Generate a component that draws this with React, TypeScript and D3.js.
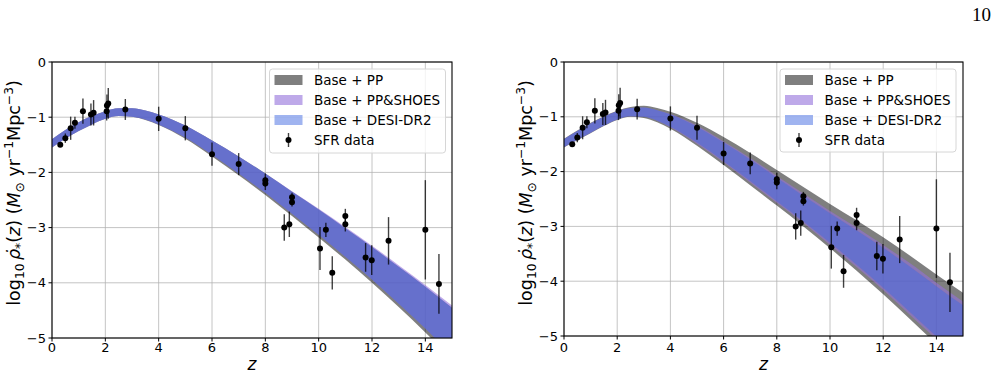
import React from 'react';
import * as d3 from 'd3';

// redshift samples where the posterior bands are tabulated
const zGrid = [0, 0.5, 1, 1.5, 2, 2.5, 3, 3.5, 4, 5, 6, 7, 8, 9, 10, 11, 12, 13, 14, 15];

// left panel: log10 SFRD band edges
const leftPPLo = [-1.55, -1.39, -1.25, -1.13, -1.03, -0.98, -0.99, -1.05, -1.14, -1.39, -1.71, -2.05, -2.41, -2.79, -3.18, -3.58, -4.00, -4.44, -4.90, -5.38];
const leftPPHi = [-1.40, -1.23, -1.09, -0.98, -0.89, -0.84, -0.84, -0.88, -0.95, -1.15, -1.42, -1.71, -2.02, -2.35, -2.67, -3.01, -3.35, -3.71, -4.07, -4.45];
const leftShoesLo = [-1.55, -1.39, -1.25, -1.13, -1.03, -0.98, -0.99, -1.04, -1.13, -1.37, -1.68, -2.02, -2.37, -2.75, -3.13, -3.53, -3.94, -4.38, -4.83, -5.31];
const leftShoesHi = [-1.40, -1.23, -1.09, -0.98, -0.89, -0.84, -0.84, -0.88, -0.95, -1.15, -1.42, -1.71, -2.02, -2.34, -2.66, -2.99, -3.33, -3.68, -4.04, -4.41];
const leftDesiLo = [-1.55, -1.39, -1.25, -1.13, -1.03, -0.98, -0.99, -1.04, -1.13, -1.37, -1.68, -2.02, -2.37, -2.75, -3.13, -3.53, -3.94, -4.38, -4.83, -5.31];
const leftDesiHi = [-1.40, -1.23, -1.09, -0.98, -0.89, -0.84, -0.84, -0.88, -0.95, -1.15, -1.42, -1.71, -2.02, -2.35, -2.67, -3.01, -3.35, -3.71, -4.07, -4.45];

// right panel: log10 SFRD band edges
const rightPPLo = [-1.56, -1.43, -1.30, -1.17, -1.06, -1.00, -1.02, -1.10, -1.22, -1.53, -1.88, -2.25, -2.62, -3.00, -3.40, -3.81, -4.24, -4.69, -5.15, -5.62];
const rightPPHi = [-1.40, -1.25, -1.11, -0.99, -0.89, -0.82, -0.80, -0.84, -0.91, -1.11, -1.37, -1.66, -1.97, -2.28, -2.59, -2.89, -3.20, -3.53, -3.88, -4.21];
const rightShoesLo = [-1.55, -1.42, -1.29, -1.16, -1.05, -0.99, -1.00, -1.07, -1.19, -1.49, -1.83, -2.20, -2.57, -2.94, -3.34, -3.74, -4.16, -4.61, -5.06, -5.52];
const rightShoesHi = [-1.41, -1.26, -1.12, -1.00, -0.90, -0.84, -0.83, -0.88, -0.95, -1.16, -1.45, -1.75, -2.08, -2.40, -2.72, -3.02, -3.34, -3.67, -4.03, -4.37];
const rightDesiLo = [-1.55, -1.42, -1.29, -1.16, -1.05, -0.99, -1.00, -1.07, -1.18, -1.47, -1.81, -2.17, -2.54, -2.91, -3.30, -3.70, -4.12, -4.56, -5.01, -5.47];
const rightDesiHi = [-1.41, -1.26, -1.12, -1.00, -0.90, -0.84, -0.83, -0.88, -0.96, -1.18, -1.47, -1.78, -2.11, -2.44, -2.76, -3.07, -3.39, -3.73, -4.09, -4.44];

// observed SFR density points
const sfrZ = [0.31, 0.50, 0.70, 0.86, 1.16, 1.46, 1.56, 2.05, 2.06, 2.11, 2.75, 4.0, 5.0, 6.0, 7.0, 8.0, 8.0, 8.71, 8.9, 9.0, 9.0, 10.05, 10.27, 10.51, 11.0, 11.0, 11.76, 11.99, 12.62, 14.0, 14.51];
const sfrLog = [-1.50, -1.38, -1.20, -1.10, -0.89, -0.95, -0.92, -0.89, -0.79, -0.75, -0.86, -1.03, -1.20, -1.67, -1.85, -2.14, -2.20, -3.00, -2.94, -2.45, -2.54, -3.38, -3.04, -3.82, -2.79, -2.94, -3.54, -3.59, -3.24, -3.04, -4.02];
const sfrErr = [0.04, 0.085, 0.21, 0.11, 0.23, 0.2, 0.23, 0.17, 0.2, 0.28, 0.19, 0.22, 0.22, 0.21, 0.2, 0.12, 0.12, 0.24, 0.23, 0.08, 0.08, 0.39, 0.13, 0.3, 0.13, 0.13, 0.26, 0.27, 0.43, 0.9, 0.54];

const xTicks = [0, 2, 4, 6, 8, 10, 12, 14];
const yTicks = [0, -1, -2, -3, -4, -5];
const legendLabels = ['Base + PP', 'Base + PP&SHOES', 'Base + DESI-DR2', 'SFR data'];

const bandStyles = [
  { fill: '#000000', opacity: 0.5 },
  { fill: '#9370DB', opacity: 0.6 },
  { fill: '#4169E1', opacity: 0.5 },
];

const FONT = '"DejaVu Sans", sans-serif';

const fmt = (v: number) => (v < 0 ? '\u2212' + Math.abs(v) : String(v));

type Seg = { t: string; it?: boolean; sh?: number };
const ylabelSegs: Seg[] = [
  { t: 'log' },
  { t: '10', sh: 1 },
  { t: '\u2009' },
  { t: '\u03C1\u0307', it: true },
  { t: '*', sh: 1 },
  { t: '(' },
  { t: 'z', it: true },
  { t: ') (' },
  { t: 'M', it: true },
  { t: '\u2299', sh: 1 },
  { t: ' yr' },
  { t: '\u22121', sh: -1 },
  { t: 'Mpc' },
  { t: '\u22123', sh: -1 },
  { t: ')' },
];

function YLabel({ x, y }: { x: number; y: number }) {
  const size = 17.5;
  let cur = 0;
  return (
    <text
      transform={`translate(${x},${y}) rotate(-90)`}
      textAnchor="middle"
      fontFamily={FONT}
      fontSize={size}
      fill="#000"
      style={{ whiteSpace: 'pre' }}
    >
      {ylabelSegs.map((s, i) => {
        const target = s.sh === 1 ? 4 : s.sh === -1 ? -7 : 0;
        const dy = target - cur;
        cur = target;
        return (
          <tspan
            key={i}
            dy={dy}
            fontStyle={s.it ? 'italic' : 'normal'}
            fontSize={s.sh ? size * 0.7 : size}
          >
            {s.t}
          </tspan>
        );
      })}
    </text>
  );
}

type PanelProps = {
  id: string;
  x0: number;
  x1: number;
  y0: number;
  y1: number;
  lows: number[][];
  highs: number[][];
  legend: { x: number; y: number; w: number; h: number };
  ylabelX: number;
};

function Panel({ id, x0, x1, y0, y1, lows, highs, legend, ylabelX }: PanelProps) {
  const x = d3.scaleLinear().domain([0, 15]).range([x0, x1]);
  const y = d3.scaleLinear().domain([-5, 0]).range([y1, y0]);
  const area = (lo: number[], hi: number[]) =>
    d3
      .area<number>()
      .x((_, i) => x(zGrid[i]))
      .y0((_, i) => y(lo[i]))
      .y1((_, i) => y(hi[i]))
      .curve(d3.curveMonotoneX)(zGrid) as string;

  return (
    <g>
      <defs>
        <clipPath id={`clip-${id}`}>
          <rect x={x0} y={y0} width={x1 - x0} height={y1 - y0} />
        </clipPath>
      </defs>
      {/* grid */}
      <g stroke="#b0b0b0" strokeWidth={1} strokeOpacity={0.75}>
        {xTicks.map((t) => (
          <line key={`gx${t}`} x1={x(t)} x2={x(t)} y1={y0} y2={y1} />
        ))}
        {yTicks.map((t) => (
          <line key={`gy${t}`} x1={x0} x2={x1} y1={y(t)} y2={y(t)} />
        ))}
      </g>
      {/* model bands */}
      <g clipPath={`url(#clip-${id})`}>
        {bandStyles.map((b, k) => (
          <path key={k} d={area(lows[k], highs[k])} fill={b.fill} fillOpacity={b.opacity} />
        ))}
      </g>
      {/* data with error bars */}
      <g>
        {sfrZ.map((z, i) => (
          <line
            key={`e${i}`}
            x1={x(z)}
            x2={x(z)}
            y1={y(sfrLog[i] - sfrErr[i])}
            y2={y(sfrLog[i] + sfrErr[i])}
            stroke="#000"
            strokeOpacity={0.75}
            strokeWidth={1.4}
          />
        ))}
        {sfrZ.map((z, i) => (
          <circle key={`p${i}`} cx={x(z)} cy={y(sfrLog[i])} r={3} fill="#000" />
        ))}
      </g>
      {/* frame */}
      <rect x={x0} y={y0} width={x1 - x0} height={y1 - y0} fill="none" stroke="#000" strokeWidth={1.1} />
      {/* ticks */}
      <g stroke="#000" strokeWidth={1}>
        {xTicks.map((t) => (
          <line key={`tx${t}`} x1={x(t)} x2={x(t)} y1={y1} y2={y1 + 3.5} />
        ))}
        {yTicks.map((t) => (
          <line key={`ty${t}`} x1={x0 - 3.5} x2={x0} y1={y(t)} y2={y(t)} />
        ))}
      </g>
      <g fontFamily={FONT} fontSize={13} fill="#000">
        {xTicks.map((t) => (
          <text key={`lx${t}`} x={x(t)} y={352} textAnchor="middle">
            {fmt(t)}
          </text>
        ))}
        {yTicks.map((t) => (
          <text key={`ly${t}`} x={x0 - 6} y={y(t)} textAnchor="end" dominantBaseline="central">
            {fmt(t)}
          </text>
        ))}
      </g>
      <text x={(x0 + x1) / 2} y={370} textAnchor="middle" fontFamily={FONT} fontSize={17} fontStyle="italic">
        z
      </text>
      <YLabel x={ylabelX} y={193} />
      {/* legend */}
      <g>
        <rect
          x={legend.x}
          y={legend.y}
          width={legend.w}
          height={legend.h}
          rx={3}
          fill="#fff"
          fillOpacity={0.8}
          stroke="#d6d6d6"
          strokeWidth={1}
        />
        {legendLabels.map((lab, i) => {
          const cy = legend.y + 11 + i * 20;
          const px = legend.x + 5;
          return (
            <g key={lab}>
              {i < 3 ? (
                <rect x={px} y={cy - 5} width={28} height={10} fill={bandStyles[i].fill} fillOpacity={bandStyles[i].opacity} />
              ) : (
                <g>
                  <line x1={px + 14} x2={px + 14} y1={cy - 7} y2={cy + 7} stroke="#000" strokeOpacity={0.75} strokeWidth={1.4} />
                  <circle cx={px + 14} cy={cy} r={3} fill="#000" />
                </g>
              )}
              <text
                x={legend.x + 44.5}
                y={cy}
                dominantBaseline="central"
                fontFamily={FONT}
                fontSize={13.5}
                fill="#000"
              >
                {lab}
              </text>
            </g>
          );
        })}
      </g>
    </g>
  );
}

export default function App() {
  return (
    <svg
      width={998}
      height={377}
      viewBox="0 0 998 377"
      style={{ position: 'absolute', left: 0, top: 0, background: '#fff' }}
    >
      <rect width={998} height={377} fill="#fff" />
      <text x={991} y={20.5} textAnchor="end" fontFamily='"Liberation Serif", serif' fontSize={19}>
        10
      </text>
      <Panel
        id="left"
        x0={52}
        x1={452}
        y0={62}
        y1={338}
        lows={[leftPPLo, leftShoesLo, leftDesiLo]}
        highs={[leftPPHi, leftShoesHi, leftDesiHi]}
        legend={{ x: 269.5, y: 69, w: 176, h: 84 }}
        ylabelX={20}
      />
      <Panel
        id="right"
        x0={564}
        x1={963}
        y0={62}
        y1={336}
        lows={[rightPPLo, rightShoesLo, rightDesiLo]}
        highs={[rightPPHi, rightShoesHi, rightDesiHi]}
        legend={{ x: 780, y: 69, w: 176, h: 83 }}
        ylabelX={532}
      />
    </svg>
  );
}
